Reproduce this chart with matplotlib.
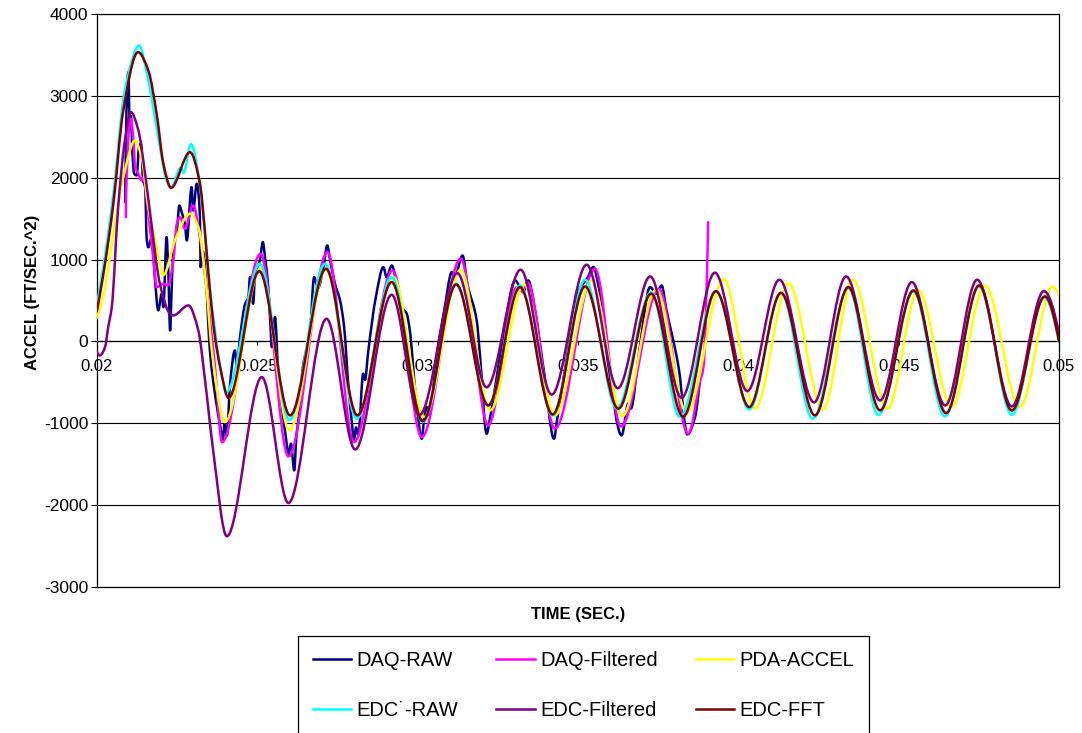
import numpy as np
import matplotlib
matplotlib.use("Agg")
import matplotlib.pyplot as plt
from matplotlib.path import Path
from matplotlib.patches import PathPatch
from matplotlib.lines import Line2D

plt.rcParams['font.family'] = ['Liberation Sans', 'DejaVu Sans']

# ---------------- data ----------------
x_ticks = [0.02, 0.025, 0.03, 0.035, 0.04, 0.045, 0.05]
x_tick_labels = ['0.02', '0.025', '0.03', '0.035', '0.04', '0.045', '0.05']
y_ticks = [-3000, -2000, -1000, 0, 1000, 2000, 3000, 4000]
y_tick_labels = ['-3000', '-2000', '-1000', '0', '1000', '2000', '3000', '4000']

series_names = ['DAQ-RAW', 'DAQ-Filtered', 'PDA-ACCEL', 'EDC\u02d9-RAW', 'EDC-Filtered', 'EDC-FFT']
series_colors = ['#000080', '#FF00FF', '#FFFF00', '#00FFFF', '#800080', '#800000']

daq_raw_t = [0.02088, 0.02098, 0.02102, 0.02106, 0.02110, 0.02116, 0.02124, 0.02131, 0.02137, 0.02144,
             0.02150, 0.02155, 0.02160, 0.02171, 0.02181, 0.02191, 0.02202, 0.02207, 0.02217, 0.02222,
             0.02228, 0.02233, 0.02238, 0.02249, 0.02257, 0.02264, 0.02274, 0.02280, 0.02295, 0.02300,
             0.02311, 0.02321, 0.02323, 0.02330, 0.02342, 0.02347, 0.02352, 0.02370, 0.02385, 0.02392,
             0.02398, 0.02405, 0.02415, 0.02430, 0.02436, 0.02446, 0.02462, 0.02472, 0.02477, 0.02487,
             0.02493, 0.02508, 0.02517, 0.02524, 0.02534, 0.02540, 0.02545, 0.02555, 0.02565, 0.02580,
             0.02590, 0.02597, 0.02605, 0.02615, 0.02622, 0.02630, 0.02642, 0.02664, 0.02677, 0.02689,
             0.02706, 0.02718, 0.02727, 0.02742, 0.02758, 0.02770, 0.02785, 0.02795, 0.02801, 0.02808,
             0.02815, 0.02830, 0.02836, 0.02845, 0.02870, 0.02893, 0.02903, 0.02919, 0.02935, 0.02950,
             0.02966, 0.02975, 0.02995, 0.03013, 0.03020, 0.03028, 0.03036, 0.03060, 0.03090, 0.03096,
             0.03106, 0.03115, 0.03140, 0.03155, 0.03184, 0.03195, 0.03215, 0.03225, 0.03240, 0.03270,
             0.03304, 0.03329, 0.03345, 0.03365, 0.03395, 0.03425, 0.03435, 0.03465, 0.03500, 0.03530,
             0.03548, 0.03565, 0.03595, 0.03636, 0.03657, 0.03665, 0.03690, 0.03725, 0.03744, 0.03761,
             0.03775, 0.03808, 0.03815, 0.03841, 0.03865, 0.03880]
daq_raw_v = [1700, 3290, 2600, 2750, 2333, 2049, 2028, 2374, 2415, 1967,
             1885, 1250, 1150, 1274, 745, 379, 583, 419, 1274, 908,
             134, 663, 1112, 1356, 1661, 1580, 1438, 1234, 1885, 1600,
             1926, 1518, 908, 1100, 623, 216, -110, -700, -1050, -1209,
             -1000, -1150, -517, -110, -314, 53, 460, 541, 786, 460,
             827, 990, 1213, 1030, 663, 257, -70, 297, -350, -900,
             -1200, -1380, -1250, -1576, -1150, -900, -314, 98, 786, 650,
             908, 1173, 990, 705, 500, 200, -600, -1000, -1209, -1050,
             -1150, -395, -470, -150, 550, 908, 786, 928, 700, 420,
             338, 150, -700, -1189, -950, -802, -900, -150, 550, 704,
             847, 780, 1050, 700, 257, -200, -1128, -950, -600, 150,
             745, 602, 745, 400, -400, -1189, -950, -200, 600, 780,
             908, 650, -300, -1148, -757, -820, -150, 664, 583, 684,
             400, -192, -350, -1136, -924, -476]

daq_filt_t = [0.02090, 0.02091, 0.02105, 0.02113, 0.02119, 0.02129, 0.02139, 0.02144, 0.02160, 0.02176,
              0.02186, 0.02207, 0.02222, 0.02238, 0.02249, 0.02259, 0.02274, 0.02300, 0.02321, 0.02342,
              0.02368, 0.02390, 0.02510, 0.02597, 0.02719, 0.02801, 0.02922, 0.03013, 0.03134, 0.03220,
              0.03309, 0.03326, 0.03343, 0.03428, 0.03553, 0.03634, 0.03752, 0.03844, 0.03880, 0.03891,
              0.03906]
daq_filt_v = [1518, 1824, 2720, 2496, 2130, 2049, 1967, 2007, 1560, 990,
              663, 705, 684, 990, 1438, 1518, 1377, 1661, 1274, 623,
              -314, -1230, 1071, -1405, 1091, -1230, 867, -1169, 1010, -1026,
              660, 610, 720, -1067, 888, -1040, 640, -1128, -497, -320,
              1457]

pda_t = [0.02000, 0.02025, 0.02056, 0.02087, 0.02118, 0.02139, 0.02160, 0.02186, 0.02207, 0.02243,
         0.02290, 0.02316, 0.02342, 0.02358, 0.02399, 0.02510, 0.02600, 0.02714, 0.02810, 0.02924,
         0.03020, 0.03134, 0.03226, 0.03332, 0.03428, 0.03543, 0.03638, 0.03744, 0.03839, 0.03954,
         0.04052, 0.04156, 0.04264, 0.04357, 0.04465, 0.04561, 0.04665, 0.04769, 0.04878, 0.04980,
         0.05000]
pda_v = [290, 663, 1441, 2089, 2455, 2251, 1641, 1152, 810, 1234,
         1560, 1396, 623, -110, -985, 888, -1087, 880, -920, 786,
         -924, 876, -843, 696, -904, 745, -915, 635, -870, 760,
         -822, 712, -830, 754, -822, 631, -802, 684, -802, 672,
         562]

edc_raw_t = [0.02000, 0.02025, 0.02051, 0.02082, 0.02093, 0.02131, 0.02160, 0.02191, 0.02217, 0.02231,
             0.02261, 0.02270, 0.02293, 0.02321, 0.02352, 0.02384, 0.02403, 0.02508, 0.02600, 0.02711,
             0.02810, 0.02919, 0.03016, 0.03120, 0.03220, 0.03319, 0.03421, 0.03522, 0.03621, 0.03728,
             0.03818, 0.03930, 0.04034, 0.04133, 0.04232, 0.04343, 0.04437, 0.04546, 0.04644, 0.04751,
             0.04853, 0.04953, 0.05000]
edc_raw_v = [460, 1050, 1800, 2950, 3188, 3616, 3188, 2496, 1967, 1877,
             2120, 2060, 2410, 1926, 650, -290, -620, 949, -960, 949,
             -944, 786, -985, 704, -782, 684, -904, 754, -822, 600,
             -924, 610, -830, 590, -944, 650, -896, 610, -916, 670,
             -896, 540, -10]

edc_filt_t = [0.02000, 0.02009, 0.02025, 0.02035, 0.02046, 0.02066, 0.02087, 0.02106, 0.02129, 0.02150,
              0.02171, 0.02196, 0.02228, 0.02238, 0.02285, 0.02316, 0.02337, 0.02361, 0.02405, 0.02514,
              0.02597, 0.02716, 0.02805, 0.02919, 0.03005, 0.03124, 0.03215, 0.03321, 0.03418, 0.03527,
              0.03624, 0.03725, 0.03823, 0.03927, 0.04028, 0.04128, 0.04236, 0.04336, 0.04442, 0.04541,
              0.04645, 0.04745, 0.04853, 0.04953, 0.05000]
edc_filt_v = [-130, -171, -70, 175, 419, 1641, 2455, 2801, 2578, 2049,
              1396, 705, 338, 318, 440, 134, -476, -1291, -2380, -436,
              -1975, 277, -1320, 570, -900, 834, -560, 876, -650, 937,
              -572, 794, -688, 840, -607, 754, -745, 794, -721, 725,
              -782, 754, -794, 615, 100]

edc_fft_t = [0.02000, 0.02025, 0.02051, 0.02082, 0.02128, 0.02160, 0.02186, 0.02207, 0.02231, 0.02290,
             0.02321, 0.02337, 0.02352, 0.02368, 0.02384, 0.02410, 0.02506, 0.02602, 0.02714, 0.02812,
             0.02919, 0.03016, 0.03120, 0.03220, 0.03319, 0.03421, 0.03522, 0.03626, 0.03728, 0.03828,
             0.03930, 0.04034, 0.04133, 0.04239, 0.04343, 0.04442, 0.04546, 0.04648, 0.04751, 0.04853,
             0.04956, 0.05000]
edc_fft_v = [380, 950, 1682, 2822, 3534, 3311, 2782, 2171, 1877, 2312,
             1926, 1320, 623, 53, -314, -690, 859, -904, 888, -904,
             725, -973, 696, -782, 664, -892, 672, -822, 583, -920,
             615, -802, 595, -904, 664, -843, 623, -876, 684, -843,
             550, 0]

series_t = [daq_raw_t, daq_filt_t, pda_t, edc_raw_t, edc_filt_t, edc_fft_t]
series_v = [daq_raw_v, daq_filt_v, pda_v, edc_raw_v, edc_filt_v, edc_fft_v]


# ---------------- helpers: smoothed line (like Excel smoothing) ----------------
def pchip_slopes(x, y):
    x = np.asarray(x, float)
    y = np.asarray(y, float)
    h = np.diff(x)
    d = np.diff(y) / h
    n = len(x)
    m = np.zeros(n)
    for k in range(1, n - 1):
        if d[k - 1] * d[k] > 0:
            w1 = 2 * h[k] + h[k - 1]
            w2 = h[k] + 2 * h[k - 1]
            m[k] = (w1 + w2) / (w1 / d[k - 1] + w2 / d[k])

    def end(h0, h1, d0, d1):
        s = ((2 * h0 + h1) * d0 - h0 * d1) / (h0 + h1)
        if np.sign(s) != np.sign(d0):
            s = 0.0
        elif np.sign(d0) != np.sign(d1) and abs(s) > abs(3 * d0):
            s = 3 * d0
        return s

    if n > 2:
        m[0] = end(h[0], h[1], d[0], d[1])
        m[-1] = end(h[-1], h[-2], d[-1], d[-2])
    else:
        m[:] = d[0]
    return m


def smooth_path(x, y):
    m = pchip_slopes(x, y)
    verts = [(x[0], y[0])]
    codes = [Path.MOVETO]
    for k in range(len(x) - 1):
        h = x[k + 1] - x[k]
        verts += [(x[k] + h / 3, y[k] + m[k] * h / 3),
                  (x[k + 1] - h / 3, y[k + 1] - m[k + 1] * h / 3),
                  (x[k + 1], y[k + 1])]
        codes += [Path.CURVE4] * 3
    return Path(verts, codes)


# ---------------- figure ----------------
W, H = 1082, 733
fig = plt.figure(figsize=(W / 100, H / 100), dpi=100)
L, R, T, B = 97, 1059, 14, 587
ax = fig.add_axes([L / W, 1 - B / H, (R - L) / W, (B - T) / H])
ax.set_xlim(0.02, 0.05)
ax.set_ylim(-3000, 4000)

ax.set_axisbelow(True)
ax.yaxis.grid(True, color='black', linewidth=0.8)
ax.xaxis.grid(False)

for s in ['top', 'right', 'left']:
    ax.spines[s].set_color('black')
    ax.spines[s].set_linewidth(0.9)
ax.spines['bottom'].set_position(('data', 0))
ax.spines['bottom'].set_color('black')
ax.spines['bottom'].set_linewidth(0.9)
ax.axhline(-3000, color='black', linewidth=0.9, clip_on=False, zorder=2.5)

ax.set_xticks(x_ticks, x_tick_labels)
ax.set_yticks(y_ticks, y_tick_labels)
ax.tick_params(axis='y', direction='out', length=4.3, width=0.8, pad=2, labelsize=12.5)
ax.tick_params(axis='x', direction='out', length=3, width=0.8, pad=10, labelsize=12)

for i, (t, v, c) in enumerate(zip(series_t, series_v, series_colors)):
    p = smooth_path(t, v)
    ax.add_patch(PathPatch(p, facecolor='none', edgecolor=c, linewidth=1.8,
                           capstyle='round', joinstyle='round', zorder=3 + i))

ax.set_ylabel('ACCEL (FT/SEC.^2)', fontsize=12, fontweight='bold', va='center', ha='center')
ax.yaxis.set_label_coords(-(L - 33) / (R - L), (B - 292) / (B - T))
ax.set_xlabel('TIME (SEC.)', fontsize=12, fontweight='bold', va='center', ha='center')
ax.xaxis.set_label_coords(0.5, -(615 - B) / (B - T))

handles = [Line2D([0], [0], color=c, linewidth=1.8) for c in series_colors]
order = [0, 3, 1, 4, 2, 5]
leg = fig.legend([handles[i] for i in order], [series_names[i] for i in order],
                 loc='upper left', bbox_to_anchor=(297.5 / W, 1 - 635.7 / H),
                 bbox_transform=fig.transFigure, ncol=3, fontsize=14.5,
                 frameon=True, fancybox=False, shadow=False, framealpha=1,
                 edgecolor='black', borderaxespad=0, borderpad=0.75,
                 handlelength=1.9, handletextpad=0.27, columnspacing=1.9,
                 labelspacing=1.56)
leg.get_frame().set_linewidth(0.9)

fig.savefig('out.png', dpi=100)
